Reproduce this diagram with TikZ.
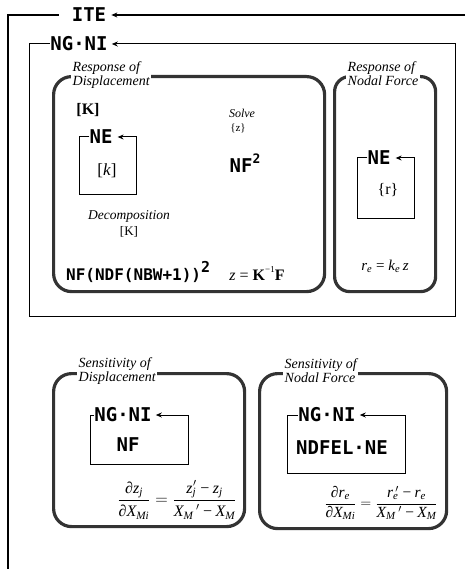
\documentclass[tikz,border=0pt]{standalone}
\usepackage{fontspec}
\usepackage{amsmath}
\setmainfont{Liberation Serif}
\newfontfamily\monof{DejaVu Sans Mono}
\usetikzlibrary{arrows.meta}
\begin{document}
\begin{tikzpicture}[x=1pt,y=-1pt,
  mono/.style={font=\monof\bfseries\fontsize{19}{19}\selectfont, inner sep=0pt},
  lab/.style={font=\itshape\fontsize{14}{14}\selectfont, align=left, fill=white, inner sep=1.5pt, anchor=west},
  rbox/.style={draw=black!80, line width=3.2pt, rounded corners=18pt, anchor=north west, inner sep=0pt},
  wire/.style={line width=1pt},
  arr/.style={-{Stealth[length=6pt,width=5pt]}},
  serif/.style={inner sep=0pt}]
\useasboundingbox (0,0) rectangle (465,569);

% rounded frames
\node[rbox, minimum width=271pt, minimum height=215pt] (rd) at (52,75) {};
\node[rbox, rounded corners=15pt, minimum width=101pt, minimum height=215pt] (rf) at (333,75) {};
\node[rbox, minimum width=191pt, minimum height=153pt] (sd) at (52,372) {};
\node[rbox, minimum width=187pt, minimum height=155pt] (sf) at (258,372) {};

\node[lab] (lrd) at (71,75) {Response of\\Displacement};
\node[lab] (lrf) at (346,74) {Response of\\Nodal Force};
\node[lab] (lsd) at (77,371) {Sensitivity of\\Displacement};
\node[lab] (lsf) at (283,371) {Sensitivity of\\Nodal Force};

% ITE loop
\node[mono] (ite) at (89,15) {ITE};
\coordinate (iteA) at (8,15);
\coordinate (iteB) at (8,569);
\coordinate (iteR) at (465,15);
\draw[wire, line width=1.3pt] ([xshift=-13pt]ite.west) -- (iteA) -- (iteB);
\draw[wire, line width=1.3pt, arr] (iteR) -- ([xshift=5pt]ite.east);

% NG.NI loop
\node[mono] (ng) at (79,44) {NG·NI};
\coordinate (ngA) at (29,44);
\coordinate (ngB) at (29,316);
\coordinate (ngC) at (455,316);
\coordinate (ngD) at (455,44);
\draw[wire, arr] (ng.west) -- (ngA) -- (ngB) -- (ngC) -- (ngD) -- ([xshift=4pt]ng.east);

% Response of displacement contents
\node[serif, font=\bfseries\fontsize{16}{16}\selectfont] (Kbig) at (88,110) {[K]};
\node[mono] (ne1) at (101,137) {NE};
\coordinate (n1a) at (79,137);
\coordinate (n1b) at (79,195);
\coordinate (n1c) at (136,195);
\coordinate (n1d) at (136,137);
\draw[wire, arr] (ne1.west) -- (n1a) -- (n1b) -- (n1c) -- (n1d) -- ([xshift=5pt]ne1.east);
\node[serif, font=\fontsize{17}{17}\selectfont] (kel) at (107,171) {[\textit{k}]};
\node[serif, font=\itshape\fontsize{13.5}{13.5}\selectfont] (dec) at (129,216) {Decomposition};
\node[serif, font=\fontsize{13}{13}\selectfont] (decK) at (129,232) {[K]};
\node[serif, font=\itshape\fontsize{12}{12}\selectfont] (solve) at (242,113) {Solve};
\node[serif, font=\fontsize{11}{11}\selectfont] (solz) at (238,128) {\{z\}};
\node[mono] (nf2) at (245,163) {NF\raisebox{0.45em}{\fontsize{13}{13}\selectfont 2}};
\node[mono, font=\monof\bfseries\fontsize{16}{16}\selectfont, anchor=west] (bw) at (66,272) {NF(NDF(NBW+1))\raisebox{0.45em}{\fontsize{15}{15}\selectfont 2}};
\node[serif, font=\fontsize{16}{16}\selectfont] (zk) at (257,274) {\textit{z} = \textbf{K}\raisebox{0.5em}{\fontsize{9}{9}\selectfont −1}\textbf{F}};

% Response of nodal force contents
\node[mono] (ne2) at (379,158) {NE};
\coordinate (n2a) at (357,158);
\coordinate (n2b) at (357,218);
\coordinate (n2c) at (414,218);
\coordinate (n2d) at (414,158);
\draw[wire, arr] (ne2.west) -- (n2a) -- (n2b) -- (n2c) -- (n2d) -- ([xshift=5pt]ne2.east);
\node[serif, font=\fontsize{16}{16}\selectfont] (rr) at (388,190) {\{r\}};
\node[serif, font=\fontsize{15}{15}\selectfont] (re) at (385,266) {\textit{r}\textsubscript{\itshape e} = \textit{k}\textsubscript{\itshape e}\,\textit{z}};

% Sensitivity of displacement contents
\node[mono] (ng2) at (123,415) {NG·NI};
\coordinate (g2a) at (90,415);
\coordinate (g2b) at (90,464);
\coordinate (g2c) at (188,464);
\coordinate (g2d) at (188,415);
\draw[wire, arr] (ng2.west) -- (g2a) -- (g2b) -- (g2c) -- (g2d) -- ([xshift=4pt]ng2.east);
\node[mono] (nf) at (128,445) {NF};
\node[serif, font=\fontsize{16}{16}\selectfont] (fd) at (177,500)
 {$\dfrac{\text{\itshape ∂z\textsubscript{j}}}{\text{\itshape ∂X\textsubscript{Mi}}}
  = \dfrac{\text{\itshape z\textsubscript{j}\kern-3pt$'$\,−\,z\textsubscript{j}}}{\text{\itshape X\textsubscript{M}\,$'$\,−\,X\textsubscript{M}}}$};

% Sensitivity of nodal force contents
\node[mono] (ng3) at (327,415) {NG·NI};
\coordinate (g3a) at (287,415);
\coordinate (g3b) at (287,473);
\coordinate (g3c) at (405,473);
\coordinate (g3d) at (405,415);
\draw[wire, arr] (ng3.west) -- (g3a) -- (g3b) -- (g3c) -- (g3d) -- ([xshift=4pt]ng3.east);
\node[mono] (ndfel) at (342,448) {NDFEL·NE};
\node[serif, font=\fontsize{15.5}{15.5}\selectfont] (ff) at (381,503)
 {$\dfrac{\text{\itshape ∂r\textsubscript{e}}}{\text{\itshape ∂X\textsubscript{Mi}}}
  = \dfrac{\text{\itshape r\textsubscript{e}\kern-3pt$'$\,−\,r\textsubscript{e}}}{\text{\itshape X\textsubscript{M}\,$'$\,−\,X\textsubscript{M}}}$};
\end{tikzpicture}
\end{document}
